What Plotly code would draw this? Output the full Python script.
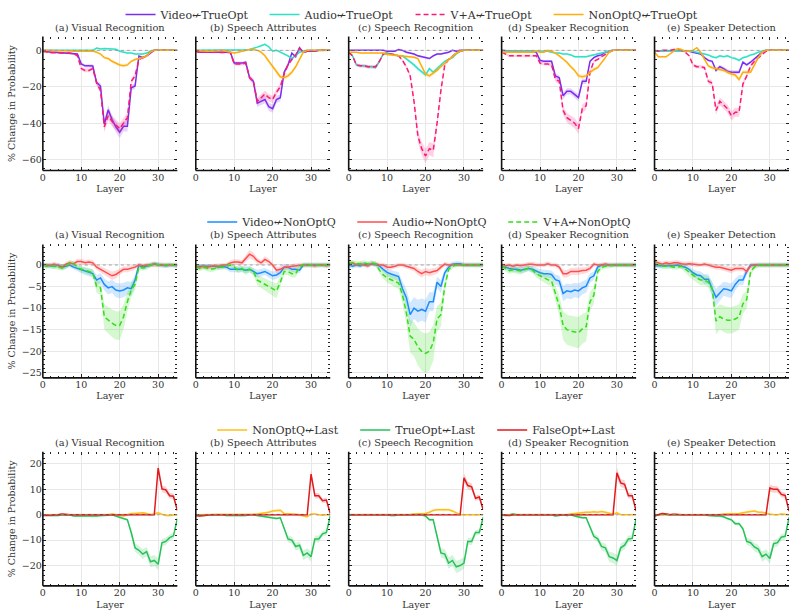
import plotly.graph_objects as go

# ---------------- data ----------------
layers = list(range(36))
panel_titles = ["(a) Visual Recognition", "(b) Speech Attributes", "(c) Speech Recognition",
                "(d) Speaker Recognition", "(e) Speaker Detection"]

# Row 1: X <- TrueOpt
video_true_a = [0,-0.5,-1,-1,-1.2,-1.2,-1.5,-1.5,-2,-2,-7.5,-8.5,-8.5,-8.6,-17.7,-19.6,-40.6,-32.7,-38,-42,-45,-41.7,-41.7,-20.5,-19.6,-3.1,-4,-3,-1.5,0,0,0,0,0,0,0]
audio_true_a = [0,0,0,0,0,0,0,0,-0.3,-0.3,-0.3,-0.3,-0.2,0,1.3,0.8,1,1,1,0.6,-0.5,-1,-1.5,-1.5,-2,-2,-2,-1.5,-0.5,0,0,0,0,0,0,0]
va_true_a = [-0.5,-1,-1.3,-1.3,-1.3,-1.3,-1.5,-1.5,-1.8,-3,-10,-11,-11,-10,-18,-22,-42,-36,-39,-41,-43,-40,-37,-17,-14,-5,-4,-3,-1,0,0,0,0,0,0,0]
nonopt_true_a = [0,0,-0.3,-0.3,-0.3,0,0,-0.3,-0.5,-0.5,-0.5,-0.5,-0.3,-0.3,-1,-2,-4,-4.5,-6,-7,-8,-8.5,-8,-6,-5,-4.5,-4,-3,-1,0,0,0,0,0,0,0]

video_true_b = [-0.5,-1,-1,-1,-1,-1,-1,-1,-1,-1,-7,-7,-7,-6.5,-15,-17,-29,-28,-27,-31,-32,-27,-26,-12,-8,-1.5,-3.5,1.5,-1,-0.5,-0.5,-0.3,0,0,0,0]
audio_true_b = [0,0,0,0,0,0,0,0,0,0,0,0,0,0.3,0.5,1,1.8,2.5,3.3,2,-0.5,0,-1,-2,-3,-4.5,-3,-1,-0.5,0,0,0,0,0,0,0]
va_true_b = [-0.5,-1,-1,-1,-1.2,-1.2,-1.2,-1.2,-1.2,-1.2,-7.5,-7.5,-7.5,-7,-15,-17,-28,-26,-24,-26,-27,-23,-20,-13,-8,-5,-2.5,1,-1,-0.5,-0.5,-0.3,0,0,0,0]
nonopt_true_b = [0,-0.3,-0.3,-0.5,-0.5,-0.3,0,0,-0.5,-0.8,-1.5,-1,-0.5,0,0.5,0.5,0,-1,-3,-6,-9,-12,-14.5,-15,-14,-12,-9,-5,-1,0,0,0,0,0,0,0]

video_true_c = [0,0,0,0,0,0,0,0,0,0,-0.5,-0.5,-0.5,0.5,0,-1,-1.5,-2,-3,-3.5,-4,-4.5,-3,-2,-2,-1.5,-1,0,-0.5,0,0,0,0,0,0,0]
audio_true_c = [-1,-3,-8,-8.5,-8.5,-9,-9,-9.5,-6,-2,-1.5,-2,-2.5,-3,-3,-4.5,-6,-8,-10,-12,-13.5,-10,-12,-10,-8,-6,-5,-4,-2,-0.5,0,0,0,0,0,0]
va_true_c = [-1,-3,-8,-8.5,-8.5,-9,-9,-9,-6,-2,-1.5,-2,-2.5,-3,-5.5,-9,-14,-28,-47,-54,-58,-54,-55,-40,-22,-8,-5,-3,-1.5,-0.5,0,0,0,0,0,0]
nonopt_true_c = [-1,-1,-1,-1.5,-1.5,-1.5,-1.5,-1.5,-1.5,-1.5,-2.3,-2.5,-2.7,-3,-3.2,-3.4,-3.6,-3.8,-4.5,-9,-13,-14,-12.5,-11,-9,-7,-5,-3,-1.5,-0.5,0,0,0,0,0,0]

video_true_d = [0,-0.3,-0.5,-0.5,-0.5,-0.5,-0.5,-0.5,-0.5,-1,-5.5,-6,-6,-6,-14,-15,-25,-22.5,-22.5,-24,-26,-17,-17,-6,-4,-3,-2.5,-1,-0.5,0,0,0,0,0,0,0]
audio_true_d = [-0.3,-0.3,-0.3,-0.3,-0.3,-0.3,-0.3,-0.3,-0.3,-0.3,-0.5,-0.5,-0.5,-1,-1.5,-1.5,-2,-2,-2.5,-3.5,-3.5,-3.5,-3.5,-3,-2.5,-2,-1.5,-1,-0.5,0,0,0,0,0,0,0]
va_true_d = [-1,-2,-3,-3,-3,-3,-3.3,-3.3,-3,-3,-7,-7.5,-7.5,-8,-16,-17,-33,-37,-38.5,-40,-43,-32,-30.5,-12,-6,-5,-3.5,-2,-1,0,0,0,0,0,0,0]
nonopt_true_d = [-1,-1,-1,-1,-1,-1,-1,-1,-1,-0.5,-1,-1,0,-0.5,-1.5,-3,-4.5,-6.5,-9,-11,-14,-14.5,-14,-12,-10.5,-9.5,-7,-4,-1,0,0,0,0,0,0,0]

video_true_e = [-0.5,-0.5,-0.5,-0.5,-0.5,-0.5,-0.5,-0.5,-0.5,-0.5,-1,-1.5,-2,-4,-5.5,-6,-11,-9,-10,-11.5,-12,-12,-12,-6.5,-8,-6.5,-4.5,-2.5,-1,0,0,0,0,0,0,0]
audio_true_e = [-0.5,-0.5,-0.5,-0.5,-0.5,-0.5,-0.5,-0.5,-0.5,-0.5,-0.5,-1,-1.5,-2,-2.5,-3.5,-4,-3,-3.5,-3,-4,-4.5,-5.5,-4,-3.5,-2.5,-2,-1,-0.5,0,0,0,0,0,0,0]
va_true_e = [0,-0.5,0,0,0,0.5,0.5,0,-1,-3,-8,-9,-9,-9.5,-17,-18,-33,-28,-30,-32,-36,-34,-34,-18.5,-14,-8.5,-6,-4,-2,-0.5,0,0,0,0,0,0]
nonopt_true_e = [-1,-3.5,-3.5,-3.5,-2,-0.5,1,0.5,-0.5,-0.5,0,1.5,-1,-5,-8.5,-9.5,-10,-10.5,-11,-12,-13,-13.5,-16,-12,-12,-12,-8,-4,-1,0,0,0,0,0,0,0]

# Row 2: X <- NonOptQ
video_non_a = [0,-0.2,-0.2,-0.3,0,-0.5,-0.3,0,-0.5,-0.8,-1.2,-1.5,-1.8,-2,-3.5,-3,-4.5,-5.3,-5,-5.8,-6,-5.8,-5.3,-5.5,-3.5,0,-0.5,-0.3,0,0.2,0.1,0,-0.2,0,0,-0.2]
audio_non_a = [0,0,0,0.2,-0.2,-0.5,0.2,0.5,0.3,0.8,0.8,0.5,0.7,0.5,-0.5,-1,-1.5,-2,-2.5,-2.2,-1.5,-1,-1,-0.8,-0.5,0,-0.2,0,0,0.2,0,0,0,0,0,0]
va_non_a = [0,-0.3,-0.2,-0.3,-0.5,-0.7,-0.3,0.5,0.3,-0.5,-1,-1.2,-1.5,-1.8,-5,-5.3,-12,-12.8,-13.5,-14,-14,-12,-8.5,-5.8,-4.5,-0.5,-0.7,-0.5,0,0.3,0,0,0,0,0,0]

video_non_b = [-0.3,-0.3,-0.3,-0.3,-0.3,-0.3,-0.5,-0.3,-0.5,-1,-1,-1,-1,-1.2,-1,-1.5,-2,-1.8,-1.5,-2,-2.5,-2.3,-1.8,-0.5,-0.5,-1,-1,-1.2,0,0,0,0,0,0,0,0]
audio_non_b = [-0.3,-0.5,-0.3,-0.5,-0.3,-0.2,-0.3,0,0,0.5,0.7,0.7,0.5,1.5,2.5,2,1,0.5,1.3,0.8,0,-1.2,-1,-0.5,-0.5,-0.3,-0.2,0,0,0,0,-0.2,0,0,-0.2,0]
va_non_b = [-0.5,-0.8,-0.5,-0.8,-1,-0.8,-0.5,-0.5,-0.3,0,-0.5,-1.2,-0.8,-1.5,-1,-1.5,-3.5,-4,-4.5,-5,-5.5,-6,-4,-1.5,-1.5,-2,-2,-0.5,0,0,0,0,0,0,0,0]

video_non_c = [0,-0.3,0,-0.2,0.2,0,0.3,0,-0.2,-1,-1.7,-2.1,-2.4,-2.7,-5.5,-7.5,-11.5,-10,-10.7,-10.3,-10.7,-8.5,-8.5,-4,-5,-1.8,-0.5,0.2,0.3,0.3,0,0,0,0,0,0]
audio_non_c = [0.3,0.5,0,0.3,0,-0.2,0.3,0.3,0,0,-0.5,-0.5,-0.3,0,0,-0.3,-0.5,-0.8,-1.5,-2,-1.5,-1.8,-1.5,-1.3,-0.5,0.2,0,0,0,0,0,0,0,0,0,0]
va_non_c = [0.2,0.5,0.3,0.3,0.5,0.3,0.5,0.3,-1.2,-2.3,-3,-3.4,-3.8,-4.2,-7,-11,-16.5,-17.2,-19,-20,-20.5,-20,-18,-12.5,-11.5,-5,-1,-0.3,0,0,0,0,0,0,0,0]

video_non_d = [-0.5,-0.5,-0.8,-1,-1,-1.2,-1,-0.8,-1,-1.5,-1.8,-2,-2,-2.2,-3.4,-3.7,-6.6,-6,-6.2,-5.8,-6,-5.3,-4.9,-3,-2.5,-0.5,0,0,0,0,0,0,0,0,0,0]
audio_non_d = [0,-0.2,0,-0.3,0,-0.2,0,0.2,0.2,0,0,0,0.3,0,0,-0.5,-2,-2,-1.5,-1.5,-1.5,-1.3,-1.2,-0.8,0.2,0,0,0.2,0,0,0,0,0,0,0,0]
va_non_d = [-0.3,-0.8,-1.3,-1.1,-1.3,-1.4,-1.1,-0.7,-1.2,-2,-2.5,-3,-3.4,-3.7,-6.5,-9.5,-14,-15,-15.3,-15.5,-15.7,-14.8,-14.3,-8.5,-7,-1.5,-0.6,-0.3,-0.2,0,0,0,0,0,0,0]

video_non_e = [-0.2,-0.2,-0.2,-0.2,-0.2,-0.2,0,-0.3,-0.5,-1,-1.8,-2.3,-2.5,-3.3,-3.3,-5.5,-7.5,-6.5,-5.5,-5.7,-6,-4.5,-3.5,-3.5,-1.5,0,0,0,0,0,0,0,0,0,0,0]
audio_non_e = [0.8,0.5,0.2,0.5,0.3,0.5,0.5,0.3,0.2,0.3,0.2,0,0,0.2,0,-0.2,-0.5,-0.5,-0.8,-1,-1.2,-0.8,-0.8,-0.8,-1.5,-0.2,0,0,0,0,0,0,0,0,0,0]
va_non_e = [0.3,0,-0.3,-0.3,-0.3,-0.5,-0.5,-0.3,-1,-1.8,-2.5,-3,-3.5,-3.5,-4,-5.5,-13,-12,-12.5,-12.8,-12.8,-12.5,-12,-9,-8,-1.5,-0.5,0,0,0,0,0,0,0,0,0]

# Row 3: X <- Last
nonopt_last_a = [0,0,0,0,0,0,0,0,0,0,0,0,0,0,0,0,0,0,0.3,0,-0.3,-0.5,0,0.5,0.5,0.8,0.8,0.5,0,0.3,0.8,0.2,-0.3,-0.3,-0.2,0]
trueopt_last_a = [0,-0.3,-0.3,-0.3,-0.3,0,-0.2,0,-0.5,-0.5,-0.5,-0.5,-0.5,-0.7,-0.5,-0.3,-0.3,-0.2,0,-0.5,-1,-1.5,-2,-7,-13,-14,-15.5,-14.5,-18.5,-18,-19.5,-11,-10.5,-9,-8.3,-1.5]
falseopt_last_a = [-0.3,-0.3,-0.2,0,0,0.3,0,0,0,0,0,0,0,0,0,0,0,0,0,0,0,0,0,0,0,0,0,0,0,0,18.4,10.2,9.8,7.5,7.3,1.7]

nonopt_last_b = [0,0,0,0,0,0,0,0,0,0,0,0,0,0,0,0.2,0.3,0.5,0.8,1,1.5,1.8,1.8,0.5,0.3,0.3,0.2,0,-0.5,-0.8,0.3,0.3,0,-0.2,0,0]
trueopt_last_b = [0,-0.2,-0.3,-0.2,0,0,0,0,-0.3,-0.3,-0.3,-0.3,-0.5,-0.3,0,0,-0.3,-0.5,-0.7,-1,-1.2,-1.5,-1.2,-5,-9.5,-10,-12.5,-12,-16,-15,-16.5,-9.5,-9.5,-7.5,-7,-0.5]
falseopt_last_b = [-0.3,-0.5,-0.3,0,0,0,0,0,0,0,0,0,0,0,0,0,0,0,0,0,0,0,0,0,0,0,0,0,0,0,16,7.5,7.5,5.5,5.8,0.5]

nonopt_last_c = [0,0,0,0,0,0,0,0,0,0,0,0,0,0,0,0,0,0.3,0.3,0.5,0.5,1,1.7,2,2,1.8,2,1.5,0.8,0,0,0,0,0,0,0]
trueopt_last_c = [0,0,-0.2,0,0,0,0,0,0,0,0,-0.3,-0.3,0,0,0,0,0,0,0,-0.5,-2,-2,-8,-15,-15.5,-19,-18,-20.5,-20,-19,-10.5,-10.5,-7,-7,-1]
falseopt_last_c = [0,0,0,0,0,0,0,0,0,0,0,0,0,0,0,0,0,0,0,0,0,0,0,0,0,0,0,0,0,0,14.5,11.5,11,6.5,7,2]

nonopt_last_d = [0,0,0,0,0,0,0,0,0,0,0,0,0,0,0,0,0,0,0.3,0.5,0.5,0.8,1,1,1.2,1,1.3,1,0.5,0.2,0.8,0,0,0,0,0]
trueopt_last_d = [0,-0.3,0,0.3,0,0,0,0,0,0,0,0,0,0,-0.5,-0.3,0,-0.3,0,-0.5,-1,-1.2,-1.2,-4.5,-8.5,-9.5,-12.5,-13,-16.5,-17,-18,-13,-12,-9.5,-9.3,-1.5]
falseopt_last_d = [0,-0.3,-0.3,0,0,0,0,0,0,0,0,0,0,0,0,0,0,0,0,0,0,0,0,0,0,0,0,0,0,0,16.5,12.5,12,7.5,7.5,1.5]

nonopt_last_e = [0,0,0,0,0,0,0,0,0,0,0,0,0,0,0,0,0,0,0.3,0.3,0.5,0.5,0.5,0.8,1.2,1.3,1.5,1,1,0.5,0.3,0,0,0.3,0,0]
trueopt_last_e = [0,0,0.3,0,0,0,0,0,0,0,0,0,0,0,-0.3,-0.5,-0.5,-0.5,-0.8,-1.5,-2,-3.5,-3.5,-5.5,-10.5,-11,-12.7,-13.5,-16.5,-15.5,-17.2,-11.4,-11,-8.8,-8.5,-1]
falseopt_last_e = [-0.5,0,0.5,0.3,0,0.2,0,0,0,0,0,0,0,0,0,0,0,0,0,0,0,0,0,0,0,0,0,0,0,0,10.5,10,10,8,7.6,1.5]

# Estimated shaded-band spread per row (relative part, absolute part)
band_spread = [(0.06, 0.4), (0.2, 0.5), (0.1, 0.35)]

rows = [
    dict(series=[
        ("Video↚TrueOpt", "#7b2df0", "solid", [video_true_a, video_true_b, video_true_c, video_true_d, video_true_e], 99),
        ("Audio↚TrueOpt", "#2de2c6", "solid", [audio_true_a, audio_true_b, audio_true_c, audio_true_d, audio_true_e], 101),
        ("V+A↚TrueOpt", "#fb1a77", "5px,3px", [va_true_a, va_true_b, va_true_c, va_true_d, va_true_e], 93),
        ("NonOptQ↚TrueOpt", "#ffad0a", "solid", [nonopt_true_a, nonopt_true_b, nonopt_true_c, nonopt_true_d, nonopt_true_e], 110),
    ], yrange=[-66, 7.6], ytick=[-60, -40, -20, 0], minor=5, dom=(0.7263, 0.9452), legy=0.982, legx=118),
    dict(series=[
        ("Video↚NonOptQ", "#1a8cff", "solid", [video_non_a, video_non_b, video_non_c, video_non_d, video_non_e], 105),
        ("Audio↚NonOptQ", "#ff4d4f", "solid", [audio_non_a, audio_non_b, audio_non_c, audio_non_d, audio_non_e], 106),
        ("V+A↚NonOptQ", "#33dd1a", "5px,3px", [va_non_a, va_non_b, va_non_c, va_non_d, va_non_e], 95),
    ], yrange=[-26.15, 4.75], ytick=[-25, -20, -15, -10, -5, 0], minor=1, dom=(0.3875, 0.6054), legy=0.642, legx=200),
    dict(series=[
        ("NonOptQ↚Last", "#ffbf1a", "solid", [nonopt_last_a, nonopt_last_b, nonopt_last_c, nonopt_last_d, nonopt_last_e], 98),
        ("TrueOpt↚Last", "#26c257", "solid", [trueopt_last_a, trueopt_last_b, trueopt_last_c, trueopt_last_d, trueopt_last_e], 92),
        ("FalseOpt↚Last", "#e31a1c", "solid", [falseopt_last_a, falseopt_last_b, falseopt_last_c, falseopt_last_d, falseopt_last_e], 90),
    ], yrange=[-28, 24.8], ytick=[-20, -10, 0, 10, 20], minor=2, dom=(0.0476, 0.2667), legy=0.3024, legx=210),
]

# ---------------- figure ----------------
W, H = 796, 615
col_x0 = [40, 193.5, 347, 500.5, 654]
PW = 135
FONT = "DejaVu Serif"
TXT = "#333333"
TICKC = "#222222"
NPANEL = 15


def rgba(hexc, a):
    h = hexc.lstrip("#")
    return "rgba(%d,%d,%d,%.2f)" % (int(h[0:2], 16), int(h[2:4], 16), int(h[4:6], 16), a)


def axname(prefix, k):
    return prefix if k == 1 else "%s%d" % (prefix, k)


fig = go.Figure()
layout = dict(width=W, height=H, margin=dict(l=0, r=0, t=0, b=0),
              paper_bgcolor="white", plot_bgcolor="white",
              font=dict(family=FONT, size=9, color=TXT), shapes=[], annotations=[])

for r, row in enumerate(rows):
    legname = "legend" if r == 0 else "legend%d" % (r + 1)
    rel, ab = band_spread[r]
    for c in range(5):
        k = r * 5 + c + 1
        xa, ya = axname("x", k), axname("y", k)
        for name, color, dash, data, lw in row["series"]:
            vals = data[c]
            up = [v + rel * abs(v) + ab for v in vals]
            lo = [v - rel * abs(v) - ab for v in vals]
            fig.add_trace(go.Scatter(x=layers + layers[::-1], y=up + lo[::-1], fill="toself",
                                     fillcolor=rgba(color, 0.2), line=dict(width=0),
                                     hoverinfo="skip", showlegend=False, xaxis=xa, yaxis=ya))
            fig.add_trace(go.Scatter(x=layers, y=vals, mode="lines", name=name,
                                     line=dict(color=color, width=1.5, dash=dash),
                                     showlegend=(c == 0), legend=legname, legendwidth=lw,
                                     xaxis=xa, yaxis=ya))
        xminor = dict(dtick=2, tick0=0, ticks="inside", ticklen=2, tickcolor=TICKC, tickwidth=0.8, showgrid=False)
        yminor = dict(dtick=row["minor"], tick0=0, ticks="inside", ticklen=2, tickcolor=TICKC,
                      tickwidth=0.8, showgrid=False)
        layout[axname("xaxis", k)] = dict(
            domain=[col_x0[c] / W, (col_x0[c] + PW) / W], anchor=ya,
            range=[0, 35], tickvals=[0, 10, 20, 30], ticks="inside", ticklen=3.5,
            tickcolor=TICKC, tickwidth=1, showline=False,
            showgrid=True, gridcolor="#e8e8e8", gridwidth=1, zeroline=False,
            tickfont=dict(size=9.5, color=TXT, family=FONT), minor=xminor,
            title=dict(text="Layer", font=dict(size=9.5, color=TXT, family=FONT), standoff=3))
        yd = dict(domain=list(row["dom"]), anchor=xa, range=row["yrange"], tickvals=row["ytick"],
                  ticks="inside", ticklen=3.5, tickcolor=TICKC, tickwidth=1, showline=False,
                  showgrid=True, gridcolor="#e8e8e8", gridwidth=1, zeroline=False,
                  showticklabels=(c == 0), tickfont=dict(size=9.5, color=TXT, family=FONT), minor=yminor)
        if c == 0:
            yd["title"] = dict(text="% Change in Probability", font=dict(size=9.5, color=TXT, family=FONT), standoff=4)
        layout[axname("yaxis", k)] = yd

        # twin axes carrying the top and right tick marks (no spine line there)
        kt = k + NPANEL
        xt, yt = axname("x", kt), axname("y", kt)
        layout[axname("xaxis", kt)] = dict(
            overlaying=xa, side="top", anchor=yt, range=[0, 35], tickvals=[0, 10, 20, 30],
            ticks="inside", ticklen=3.5, tickcolor=TICKC, tickwidth=1, showticklabels=False,
            showgrid=False, zeroline=False, showline=False, minor=dict(xminor))
        layout[axname("yaxis", kt)] = dict(
            overlaying=ya, side="right", anchor=xt, range=row["yrange"], tickvals=row["ytick"],
            ticks="inside", ticklen=3.5, tickcolor=TICKC, tickwidth=1, showticklabels=False,
            showgrid=False, zeroline=False, showline=False, minor=dict(yminor))
        fig.add_trace(go.Scatter(x=[None], y=[None], mode="lines", showlegend=False,
                                 hoverinfo="skip", xaxis=xt, yaxis=yt))

        # zero reference line
        layout["shapes"].append(dict(type="line", xref=xa + " domain", x0=0, x1=1, yref=ya, y0=0, y1=0,
                                     line=dict(color="#999999", width=0.9, dash="dot"), layer="above"))
        # left and bottom spines
        layout["shapes"].append(dict(type="line", xref=xa + " domain", x0=0, x1=0, yref=ya + " domain",
                                     y0=0, y1=1, line=dict(color="#111", width=1.6)))
        layout["shapes"].append(dict(type="line", xref=xa + " domain", x0=0, x1=1, yref=ya + " domain",
                                     y0=0, y1=0, line=dict(color="#111", width=1.6)))
        layout["annotations"].append(dict(text=panel_titles[c], xref=xa + " domain", x=0.5,
                                          yref=ya + " domain", y=1, yanchor="bottom", yshift=2,
                                          showarrow=False, font=dict(size=9.8, color=TXT, family=FONT)))
    layout[legname] = dict(orientation="h", x=row["legx"] / W, xanchor="left", y=row["legy"], yanchor="middle",
                           xref="paper", yref="paper", bgcolor="rgba(0,0,0,0)", borderwidth=0,
                           font=dict(size=11, color=TXT, family=FONT), itemwidth=30)

fig.update_layout(**layout)
fig.write_html("out.html")
